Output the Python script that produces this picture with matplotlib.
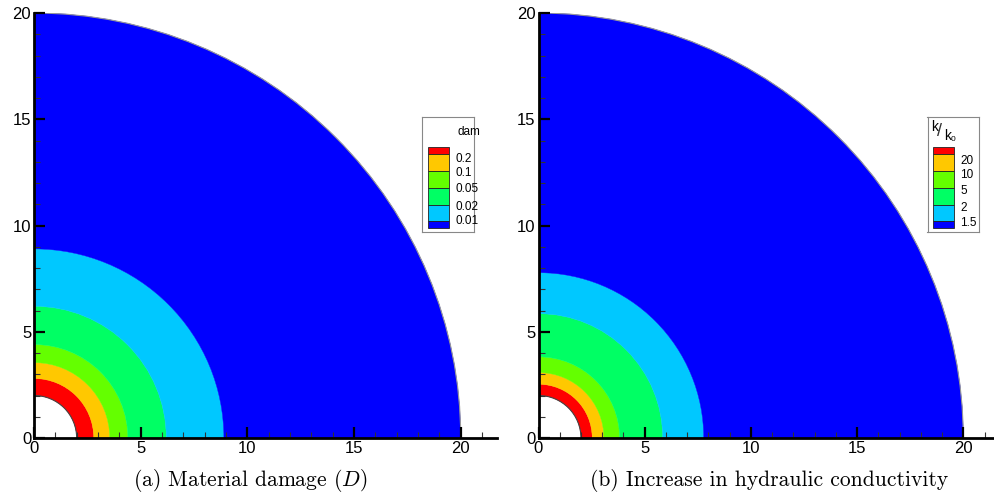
import matplotlib.pyplot as plt
from matplotlib.patches import Wedge, Arc, Rectangle
from matplotlib.ticker import MultipleLocator

# band boundaries (radius) for each plot, inner hole at r = 2, outer boundary r = 20
dam_radii = [2.0, 2.8, 3.55, 4.4, 6.2, 8.9, 20.0]
dam_labels = ['0.2', '0.1', '0.05', '0.02', '0.01']
perm_radii = [2.0, 2.53, 3.08, 3.82, 5.85, 7.78, 20.0]
perm_labels = ['20', '10', '5', '2', '1.5']
band_colors = ['#ff0000', '#ffc800', '#64ff00', '#00ff64', '#00c8ff', '#0000ff']

W, H = 994, 495
fig = plt.figure(figsize=(W / 100, H / 100), dpi=100)
plt.rcParams['font.family'] = ['Liberation Sans', 'DejaVu Sans']


def fig_box(x0, y0, x1, y1):
    # pixel box (top-left origin) -> figure fraction rect
    return [x0 / W, (H - y1) / H, (x1 - x0) / W, (y1 - y0) / H]


def draw_field(ax, radii, xmax):
    for r_in, r_out, c in zip(radii[:-1], radii[1:], band_colors):
        ax.add_patch(Wedge((0, 0), r_out, 0, 90, width=r_out - r_in,
                           facecolor=c, edgecolor=c, lw=0.3, zorder=1))
    ax.add_patch(Arc((0, 0), 2 * radii[0], 2 * radii[0], theta1=0, theta2=90,
                     color='#444444', lw=0.8, zorder=2))
    ax.add_patch(Arc((0, 0), 2 * radii[-1], 2 * radii[-1], theta1=0, theta2=90,
                     color='#999999', lw=0.8, zorder=2))
    ax.set_xlim(0, xmax)
    ax.set_ylim(0, 20)
    for s in ['top', 'right']:
        ax.spines[s].set_visible(False)
    for s in ['left', 'bottom']:
        ax.spines[s].set_linewidth(2)
        ax.spines[s].set_zorder(5)
    ax.xaxis.set_major_locator(MultipleLocator(5))
    ax.yaxis.set_major_locator(MultipleLocator(5))
    ax.xaxis.set_minor_locator(MultipleLocator(1))
    ax.yaxis.set_minor_locator(MultipleLocator(1))
    ax.tick_params(which='major', direction='in', length=8, width=1.6,
                   labelsize=12, pad=2)
    ax.tick_params(which='minor', direction='in', length=4, width=0.8,
                   color='#333333')
    ax.set_axisbelow(False)


def draw_legend(box, labels, label_y):
    x0, y0, x1, y1 = box
    lax = fig.add_axes(fig_box(x0, y0, x1, y1))
    lax.set_xlim(x0, x1)
    lax.set_ylim(y1, y0)
    lax.set_xticks([])
    lax.set_yticks([])
    for s in lax.spines.values():
        s.set_color('#888888')
        s.set_linewidth(0.8)
    edges = [146.7, 154.3, 170.7, 187.7, 204.7, 221.0, 228.3]
    for ya, yb, c in zip(edges[:-1], edges[1:], band_colors):
        lax.add_patch(Rectangle((x0 + 6, ya), 21, yb - ya, facecolor=c,
                                edgecolor='#222222', lw=0.6))
    for lab, yy in zip(labels, label_y):
        lax.text(x0 + 33, yy, lab, fontsize=8.5, va='center', ha='left')
    return lax


# (a) damage
ax1 = fig.add_axes(fig_box(34, 13, 497, 438))
draw_field(ax1, dam_radii, 21.7)
leg1 = draw_legend((422, 117, 474, 232), dam_labels,
                   [159.5, 172.5, 189, 206.5, 220.5])
leg1.text(458, 132, 'dam', fontsize=8.5, va='center', ha='left')

# (b) permeability ratio
ax2 = fig.add_axes(fig_box(538.5, 13, 993, 438))
draw_field(ax2, perm_radii, 21.4)
leg2 = draw_legend((927.5, 117, 979, 232), perm_labels,
                   [161.5, 174.5, 190.5, 208, 223])
# k / k0 title, stacked like a slanted fraction
leg2.text(931, 127, 'k', fontsize=10, va='center', ha='left')
leg2.text(937, 132, '/', fontsize=13, va='center', ha='left',
          color='#333333')
leg2.text(944, 136, 'k', fontsize=10, va='center', ha='left')
leg2.text(950.5, 139.5, '0', fontsize=6, va='center', ha='left')

fig.text(250 / W, (H - 486) / H, r'(a) Material damage ($D$)',
         family='cmr10', math_fontfamily='cm', fontsize=15.5,
         ha='center', va='baseline')
fig.text(769 / W, (H - 486) / H, '(b) Increase in hydraulic conductivity',
         family='cmr10', math_fontfamily='cm', fontsize=15.5,
         ha='center', va='baseline')

fig.savefig('out.png', dpi=100)
